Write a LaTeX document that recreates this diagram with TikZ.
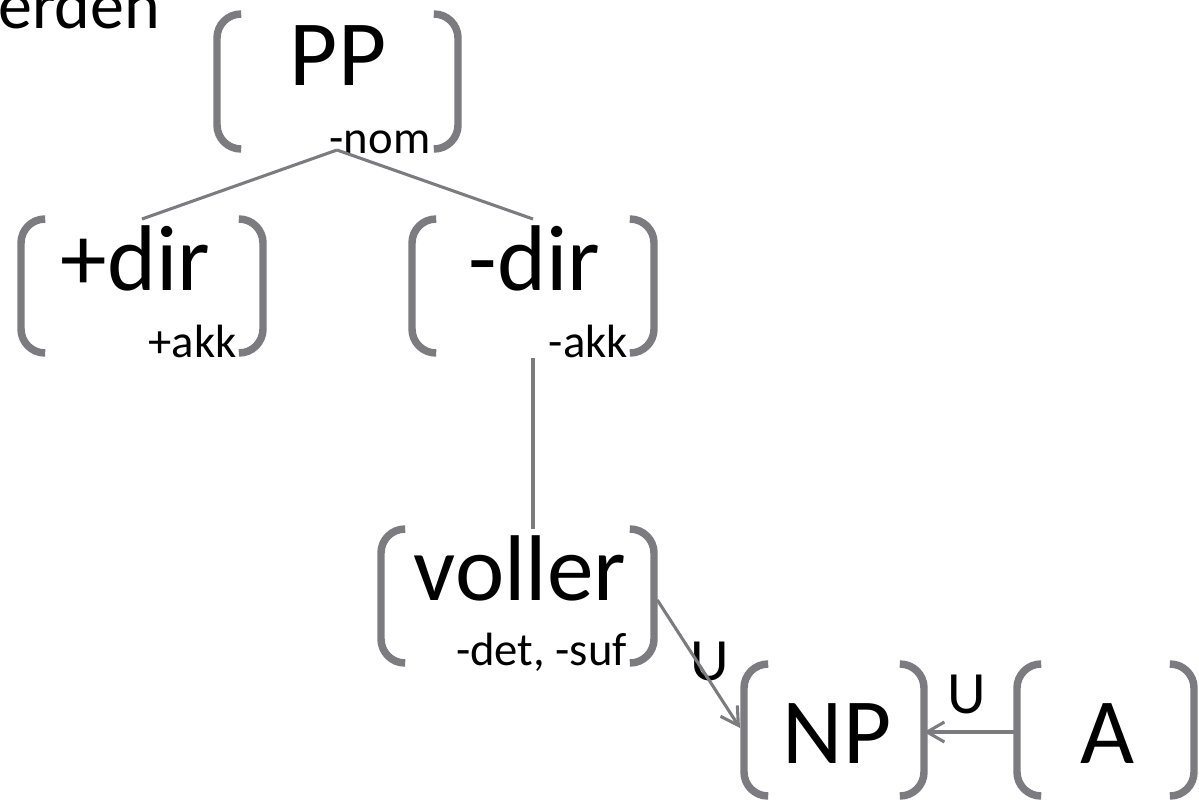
\documentclass[tikz,border=0pt]{standalone}
\usepackage{fontspec}
\setmainfont{Carlito}
\usetikzlibrary{arrows.meta}
\definecolor{brk}{RGB}{124,124,128}
\newcommand\fsbrackets[1]{%
  \draw[brkline] ([xshift=17.25pt]#1.north west) -- (#1.north west) -- (#1.south west) -- ([xshift=17.25pt]#1.south west);
  \draw[brkline] ([xshift=-17.25pt]#1.north east) -- (#1.north east) -- (#1.south east) -- ([xshift=-17.25pt]#1.south east);}
\begin{document}
\begin{tikzpicture}[x=0.75pt,y=-0.75pt,
  fsbox/.style n args={2}{minimum width=#1*0.75pt, minimum height=#2*0.75pt, inner sep=0pt, outer sep=0pt, draw=none},
  brkline/.style={draw=brk, line width=5.6pt, rounded corners=18pt},
  conn/.style={draw=brk, line width=2.3pt},
  uarrow/.style={conn, -{Straight Barb[length=13pt,width=15pt]}},
  big/.style={font=\fontsize{70}{84}\selectfont, inner sep=0pt, anchor=base},
  small/.style={font=\fontsize{35}{42}\selectfont, inner sep=0pt, anchor=base},
  ulab/.style={font=\fontsize{45}{54}\selectfont, inner sep=0pt, anchor=base},
  toptext/.style={font=\fontsize{51}{60}\selectfont, inner sep=0pt, anchor=base west}]
\clip (0,0) rectangle (1199,801);
\fill[white] (0,0) rectangle (1199,801);

% feature-structure boxes
\node[fsbox={241}{135}] (pp) at (337.5,81.5) {};
\node[fsbox={242}{134}] (pdir) at (142,286) {};
\node[fsbox={242}{134}] (mdir) at (533,286) {};
\node[fsbox={273}{134}] (voller) at (517.5,596) {};
\node[fsbox={180}{132}] (np) at (834,730) {};
\node[fsbox={177}{132}] (a) at (1105.5,730) {};

\fsbrackets{pp}
\fsbrackets{pdir}
\fsbrackets{mdir}
\fsbrackets{voller}
\fsbrackets{np}
\fsbrackets{a}

% texts
\node[toptext] (werden) at (-2,28) {erden};
\node[big] (tpp) at (338,85) {PP};
\node[small] (tnom) at (380,153) {-nom};
\node[big] (tpdir) at (135.5,290) {+dir};
\node[small] (tpakk) at (192.5,357) {+akk};
\node[big] (tmdir) at (534.5,290) {-dir};
\node[small] (tmakk) at (588.5,357) {-akk};
\node[big] (tvoller) at (520,600) {voller};
\node[small] (tdet) at (541.5,665) {-det, -suf};
\node[big] (tnp) at (837,763) {NP};
\node[big] (ta) at (1107,763) {A};
\node[ulab] (u1) at (710,680) {U};
\node[ulab] (u2) at (967,713) {U};

% connectors
\coordinate (apex) at (337,150);
\draw[conn] (apex) -- (pdir.north);
\draw[conn] (apex) -- (mdir.north);
\draw[conn] ([yshift=-4pt]mdir.south) -- (mdir.south |- voller.north);
\draw[uarrow] ([shift={(2.5pt,-3pt)}]voller.east) -- ([shift={(-3pt,1.5pt)}]np.west);
\draw[uarrow] ([yshift=-1.5pt]a.west) -- ([yshift=-1.5pt]np.east);
\end{tikzpicture}
\end{document}
